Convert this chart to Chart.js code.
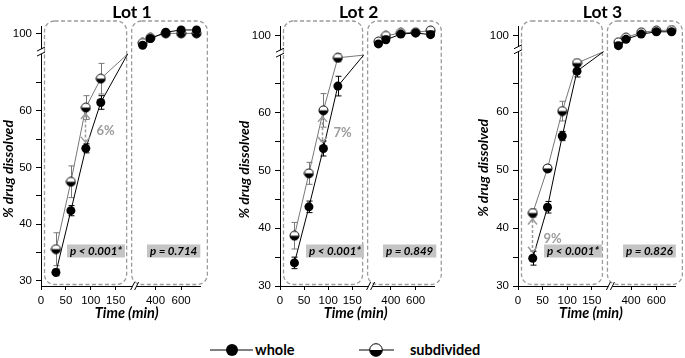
<!DOCTYPE html>
<html>
<head>
<meta charset="utf-8">
<script src="https://cdn.jsdelivr.net/npm/chart.js@4.4.1/dist/chart.umd.min.js"></script>
<style>
  html, body { margin: 0; padding: 0; background: #fff; overflow: hidden; }
  #page { position: relative; width: 685px; height: 358px; }
  #page canvas { position: absolute; top: 0; }
  #legend { position: absolute; left: 0; top: 330px; }
</style>
</head>
<body>
<div id="page">
  <canvas id="lot1" width="211" height="326" style="left:0px"></canvas>
  <canvas id="lot2" width="209" height="326" style="left:236px"></canvas>
  <canvas id="lot3" width="211" height="326" style="left:475px"></canvas>
  <svg id="legend" width="685" height="28" font-family="Lato" font-weight="bold" font-size="14.5">
    <line x1="210" y1="20" x2="253" y2="20" stroke="#000" stroke-width="1"/>
    <circle cx="232" cy="20" r="6" fill="#000"/>
    <text x="255" y="24.5">whole</text>
    <line x1="359" y1="20" x2="394" y2="20" stroke="#000" stroke-width="1"/>
    <circle cx="376" cy="20" r="6.3" fill="#fff" stroke="#000" stroke-width="1"/>
    <path d="M369.7,20 A6.3,6.3 0 0 0 382.3,20 Z" fill="#000"/>
    <text x="410" y="24.5">subdivided</text>
  </svg>
</div>

<script>
// sampling times (min)
const earlyTimes = [30, 60, 90, 120];
const lateTimes = [300, 360, 480, 600, 720];

// Lot 1 (% drug dissolved)
const lot1Whole = [31.5, 42.4, 53.4, 61.5];
const lot1WholeErr = [0.6, 0.9, 0.8, 1.2];
const lot1Sub = [35.6, 47.5, 60.6, 65.7];
const lot1SubErr = [2.9, 2.8, 2.1, 2.7];
const lot1WholeLate = [97.9, 99.1, 100.2, 100.6, 100.6];
const lot1SubLate = [98.3, 99.2, 100.0, 100.0, 100.0];

// Lot 2
const lot2Whole = [34.0, 43.7, 53.8, 64.6];
const lot2WholeErr = [1.0, 1.0, 1.3, 1.7];
const lot2Sub = [38.7, 49.5, 60.4, 69.5];
const lot2SubErr = [2.3, 1.9, 2.9, 0.7];
const lot2WholeLate = [98.6, 99.3, 100.3, 100.5, 100.2];
const lot2SubLate = [99.0, 100.0, 100.5, 100.6, 100.9];

// Lot 3
const lot3Whole = [34.8, 43.6, 55.9, 67.1];
const lot3WholeErr = [1.2, 1.0, 0.8, 1.0];
const lot3Sub = [42.6, 50.3, 60.2, 68.5];
const lot3SubErr = [0.7, 0.6, 1.7, 0.5];
const lot3WholeLate = [98.3, 99.4, 100.3, 100.7, 100.7];
const lot3SubLate = [98.9, 99.7, 100.6, 100.9, 101.0];

// annotations
const lotNames = ['Lot 1', 'Lot 2', 'Lot 3'];
const earlyP = ['p < 0.001*', 'p < 0.001*', 'p < 0.001*'];
const lateP = ['p = 0.714', 'p = 0.849', 'p = 0.826'];
const diffLabels = ['6%', '7%', '9%'];
const diffTimes = [90, 90, 30];

// broken y axis ranges per lot
const lowerMin = [29.1, 30, 30];
const lowerMax = [70.4, 70.3, 70.8];
const upperMin = [96.7, 97.0, 97.6];
const upperMax = [101.3, 101.7, 101.7];

// x tick labels
const earlyTicks = [0, 50, 100, 150];
const lateTicks = [400, 600];

// panel placement (canvas relative)
const yAxisWidth = [41, 44, 43];
const titleX = [132, 122.6, 127.5];
const timeX = [126.7, 119.6, 116];

const lots = [
    {whole: lot1Whole, wholeErr: lot1WholeErr, sub: lot1Sub, subErr: lot1SubErr, wholeLate: lot1WholeLate, subLate: lot1SubLate},
    {whole: lot2Whole, wholeErr: lot2WholeErr, sub: lot2Sub, subErr: lot2SubErr, wholeLate: lot2WholeLate, subLate: lot2SubLate},
    {whole: lot3Whole, wholeErr: lot3WholeErr, sub: lot3Sub, subErr: lot3SubErr, wholeLate: lot3WholeLate, subLate: lot3SubLate}
];

const grey = '#9b9b9b';
const subColor = '#777777';
const tickFont = {family: 'Liberation Sans', size: 11.5};

// half filled marker (white top, black bottom)
function halfMarker(r) {
    const size = Math.ceil(r * 2 + 2);
    const c = document.createElement('canvas');
    c.width = size;
    c.height = size;
    const g = c.getContext('2d');
    const m = size / 2;
    g.beginPath(); g.arc(m, m, r, 0, 2 * Math.PI); g.fillStyle = '#fff'; g.fill();
    g.beginPath(); g.arc(m, m, r, 0, Math.PI); g.closePath(); g.fillStyle = '#000'; g.fill();
    g.beginPath(); g.arc(m, m, r, 0, 2 * Math.PI); g.lineWidth = 1; g.strokeStyle = '#000'; g.stroke();
    return c;
}
const halfImg = halfMarker(4.5);

function roundBox(ctx, x, y, w, h, r) {
    ctx.beginPath();
    ctx.moveTo(x + r, y);
    ctx.arcTo(x + w, y, x + w, y + h, r);
    ctx.arcTo(x + w, y + h, x, y + h, r);
    ctx.arcTo(x, y + h, x, y, r);
    ctx.arcTo(x, y, x + w, y, r);
    ctx.closePath();
}

function pBox(ctx, text, cx, cy) {
    ctx.font = 'bold italic 11.5px Lato';
    const w = ctx.measureText(text).width + 6;
    ctx.fillStyle = '#c4c4c4';
    ctx.fillRect(cx - w / 2, cy - 6.5, w, 13);
    ctx.fillStyle = '#000';
    ctx.textAlign = 'center';
    ctx.textBaseline = 'middle';
    ctx.fillText(text, cx, cy + 0.5);
}

function decor(i) {
    const lot = lots[i];
    return {
        id: 'decor' + i,
        beforeDatasetsDraw(chart) {
            const {ctx, chartArea: area} = chart;
            const {xl, xr, yl} = chart.scales;
            ctx.save();

            // dashed rounded frames
            ctx.strokeStyle = grey;
            ctx.lineWidth = 1.3;
            ctx.setLineDash([4, 2.5]);
            const top = area.top - 5, bottom = area.bottom - 1.5;
            roundBox(ctx, area.left + 3.5, top, xl.right - 9 - (area.left + 3.5), bottom - top, 10);
            ctx.stroke();
            roundBox(ctx, xr.left - 4, top, area.right + 7 - (xr.left - 4), bottom - top, 10);
            ctx.stroke();
            ctx.setLineDash([]);

            // p-value boxes
            pBox(ctx, earlyP[i], area.left + 55, area.bottom - 35);
            pBox(ctx, lateP[i], xr.left + 38, area.bottom - 35);

            // error bars
            const series = [[lot.sub, lot.subErr, subColor], [lot.whole, lot.wholeErr, '#000']];
            ctx.lineWidth = 1;
            series.forEach(([vals, errs, color]) => {
                ctx.strokeStyle = color;
                earlyTimes.forEach((t, k) => {
                    const x = Math.round(xl.getPixelForValue(t)) + 0.5;
                    const y1 = yl.getPixelForValue(vals[k] + errs[k]);
                    const y2 = yl.getPixelForValue(vals[k] - errs[k]);
                    ctx.beginPath();
                    ctx.moveTo(x, y1); ctx.lineTo(x, y2);
                    ctx.moveTo(x - 3, y1); ctx.lineTo(x + 3, y1);
                    ctx.moveTo(x - 3, y2); ctx.lineTo(x + 3, y2);
                    ctx.stroke();
                });
            });

            // lines running on towards the axis break
            const ex = xl.right - 8, ey = yl.top + 2;
            [[lot.sub, subColor], [lot.whole, '#000']].forEach(([vals, color]) => {
                const last = vals.length - 1;
                ctx.strokeStyle = color;
                ctx.beginPath();
                ctx.moveTo(xl.getPixelForValue(earlyTimes[last]), yl.getPixelForValue(vals[last]));
                ctx.lineTo(ex, ey);
                ctx.stroke();
            });
            ctx.restore();
        },
        afterDatasetsDraw(chart) {
            const {ctx} = chart;
            const {xl, yl} = chart.scales;
            const k = earlyTimes.indexOf(diffTimes[i]);
            const x = Math.round(xl.getPixelForValue(diffTimes[i])) - 0.5;
            const ya = yl.getPixelForValue(lot.sub[k]);
            const yb = yl.getPixelForValue(lot.whole[k]);
            const y1 = Math.min(ya, yb) + 6, y2 = Math.max(ya, yb) - 6;
            ctx.save();
            ctx.strokeStyle = grey;
            ctx.lineWidth = 1.5;
            ctx.setLineDash([3, 2]);
            ctx.beginPath(); ctx.moveTo(x, y1 + 1); ctx.lineTo(x, y2 - 1); ctx.stroke();
            ctx.setLineDash([]);
            ctx.beginPath();
            ctx.moveTo(x - 4.5, y1 + 5.5); ctx.lineTo(x, y1); ctx.lineTo(x + 4.5, y1 + 5.5);
            ctx.moveTo(x - 4.5, y2 - 5.5); ctx.lineTo(x, y2); ctx.lineTo(x + 4.5, y2 - 5.5);
            ctx.stroke();
            ctx.fillStyle = grey;
            ctx.font = 'bold 13px Lato';
            ctx.textAlign = 'left';
            ctx.textBaseline = 'middle';
            ctx.fillText(diffLabels[i], x + 11, (y1 + y2) / 2 + 3);
            ctx.restore();
        },
        afterDraw(chart) {
            const {ctx, chartArea: area} = chart;
            const {xl, yl} = chart.scales;
            ctx.save();
            // y axis break
            const ax = area.left, by = yl.top;
            ctx.fillStyle = '#fff';
            ctx.fillRect(ax - 1.5, by - 3, 3, 5);
            ctx.strokeStyle = '#000';
            ctx.lineWidth = 1;
            ctx.beginPath();
            ctx.moveTo(ax - 4, by - 1); ctx.lineTo(ax + 4, by - 5);
            ctx.moveTo(ax - 4, by + 4); ctx.lineTo(ax + 4, by);
            ctx.stroke();
            // x axis break
            const bx = xl.right, ay = area.bottom;
            ctx.fillRect(bx - 3, ay - 1.5, 4, 3);
            ctx.beginPath();
            ctx.moveTo(bx - 5, ay + 4); ctx.lineTo(bx - 1, ay - 4);
            ctx.moveTo(bx - 1, ay + 4); ctx.lineTo(bx + 3, ay - 4);
            ctx.stroke();
            // titles
            ctx.fillStyle = '#000';
            ctx.textAlign = 'center';
            ctx.textBaseline = 'middle';
            ctx.font = 'bold 17.5px Lato';
            ctx.fillText(lotNames[i], titleX[i], 12);
            ctx.font = 'bold italic 14.5px Lato';
            ctx.fillText('Time (min)', timeX[i], 313);
            ctx.restore();
        }
    };
}

function buildPanel(i) {
    const lot = lots[i];
    const early = vals => earlyTimes.map((t, k) => ({x: t, y: vals[k]}));
    const late = vals => lateTimes.map((t, k) => ({x: t, y: vals[k]}));

    const wholeStyle = {
        borderColor: '#000', borderWidth: 1, backgroundColor: '#000',
        pointBackgroundColor: '#000', pointBorderColor: '#000',
        pointStyle: 'circle', pointRadius: 4.5, pointBorderWidth: 0, clip: false
    };
    const subStyle = {
        borderColor: subColor, borderWidth: 1,
        pointStyle: halfImg, pointRadius: 4.5, clip: false
    };

    // shared axis look
    const axisGrid = {drawOnChartArea: false, color: '#000', tickLength: 4};
    const axisBorder = {color: '#000', width: 1};

    new Chart(document.getElementById('lot' + (i + 1)), {
        type: 'line',
        data: {
            datasets: [
                Object.assign({label: 'whole', data: early(lot.whole), xAxisID: 'xl', yAxisID: 'yl'}, wholeStyle),
                Object.assign({label: 'subdivided', data: early(lot.sub), xAxisID: 'xl', yAxisID: 'yl'}, subStyle),
                Object.assign({label: 'whole', data: late(lot.wholeLate), xAxisID: 'xr', yAxisID: 'yu'}, wholeStyle),
                Object.assign({label: 'subdivided', data: late(lot.subLate), xAxisID: 'xr', yAxisID: 'yu'}, subStyle)
            ]
        },
        options: {
            responsive: false,
            animation: false,
            events: [],
            layout: {padding: {top: 26, right: 8, bottom: 0, left: 0}},
            plugins: {
                legend: {display: false},
                tooltip: {enabled: false},
                title: {display: false}
            },
            scales: {
                xl: {
                    type: 'linear', position: 'bottom', stack: 'time', stackWeight: 95,
                    min: 0, max: 190,
                    afterBuildTicks: s => { s.ticks = earlyTicks.map(v => ({value: v})); },
                    ticks: {font: tickFont, color: '#000', padding: 4, maxRotation: 0, autoSkip: false},
                    grid: axisGrid, border: axisBorder,
                    afterFit: s => { s.height = 40; }
                },
                xr: {
                    type: 'linear', position: 'bottom', stack: 'time', stackWeight: 65,
                    min: 245, max: 750,
                    afterBuildTicks: s => { s.ticks = lateTicks.map(v => ({value: v})); },
                    ticks: {font: tickFont, color: '#000', padding: 4, maxRotation: 0, autoSkip: false},
                    grid: axisGrid, border: axisBorder,
                    afterFit: s => { s.height = 40; }
                },
                yl: {
                    type: 'linear', position: 'left', stack: 'drug',
                    stackWeight: lowerMax[i] - lowerMin[i],
                    min: lowerMin[i], max: lowerMax[i],
                    ticks: {
                        stepSize: 5, includeBounds: false, autoSkip: false,
                        font: tickFont, color: '#000', padding: 4,
                        callback: v => (v % 10 === 0 ? v : '')
                    },
                    afterBuildTicks: s => { s.ticks = s.ticks.filter(t => t.value <= 65); },
                    grid: {drawOnChartArea: false, color: '#000', tickLength: 5},
                    border: axisBorder,
                    title: {
                        display: true, text: '% drug dissolved', color: '#000',
                        font: {family: 'Lato', size: 14, weight: 'bold', style: 'italic'},
                        padding: {top: 0, bottom: 0}
                    },
                    afterFit: s => { s.width = yAxisWidth[i]; }
                },
                yu: {
                    type: 'linear', position: 'left', stack: 'drug',
                    stackWeight: upperMax[i] - upperMin[i],
                    min: upperMin[i], max: upperMax[i],
                    ticks: {stepSize: 5, includeBounds: false, font: tickFont, color: '#000', padding: 4},
                    grid: {drawOnChartArea: false, color: '#000', tickLength: 5},
                    border: axisBorder,
                    afterFit: s => { s.width = yAxisWidth[i]; }
                }
            }
        },
        plugins: [decor(i)]
    });
}

[0, 1, 2].forEach(buildPanel);
</script>
</body>
</html>
